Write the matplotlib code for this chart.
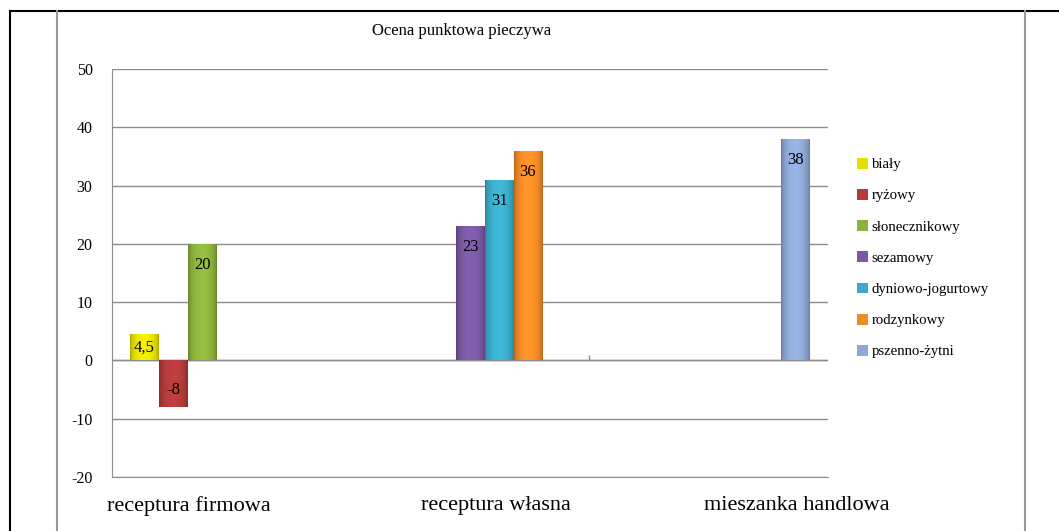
import numpy as np
import matplotlib
matplotlib.use('Agg')
from matplotlib import pyplot as plt
from matplotlib.lines import Line2D
from matplotlib.patches import Patch
import matplotlib.colors as mcolors

plt.rcParams['font.family'] = ['Liberation Serif', 'DejaVu Serif']

# scores per bread type, grouped by recipe (None = not in that group)
groups = ['receptura firmowa', 'receptura własna', 'mieszanka handlowa']
series = ['biały', 'ryżowy', 'słonecznikowy', 'sezamowy',
          'dyniowo-jogurtowy', 'rodzynkowy', 'pszenno-żytni']
values = [
    [4.5, None, None],
    [-8, None, None],
    [20, None, None],
    [None, 23, None],
    [None, 31, None],
    [None, 36, None],
    [None, None, 38],
]
colors = ['#e6e000', '#b23a3a', '#8cb13c', '#7a58a3', '#3aacca', '#f28a26', '#8ea7d6']
label_pos = [-0.18, 1.11, 2.37]   # where the group names sit along x
yticks = [-20, -10, 0, 10, 20, 30, 40, 50]

fig = plt.figure(figsize=(10.59, 5.31), dpi=100)
ax = fig.add_axes([0.1058, 0.1017, 0.6761, 0.7684])

n = len(series)
width = 0.85 / n


def shaded_bar(ax, x, h, w, color):
    # bar with a soft horizontal shading, darker at the sides
    bar = ax.bar(x, h, w, color=color, edgecolor='none', zorder=3)[0]
    base = np.array(mcolors.to_rgb(color))
    t = np.linspace(0, 1, 64)
    shade = 0.72 + 0.36 * np.sin(np.pi * t) ** 0.5
    row = np.clip(base[None, :] * shade[:, None], 0, 1)
    img = np.repeat(row[None, :, :], 2, axis=0)
    y0, y1 = (0, h) if h >= 0 else (h, 0)
    im = ax.imshow(img, extent=[x - w / 2, x + w / 2, y0, y1], aspect='auto',
                   zorder=4, interpolation='bilinear')
    im.set_clip_path(bar)
    return bar


handles = []
for j, (name, vals, col) in enumerate(zip(series, values, colors)):
    for i, v in enumerate(vals):
        if v is None:
            continue
        x = i + (j - (n - 1) / 2) * width
        shaded_bar(ax, x, v, width, col)
        txt = str(v).replace('.', ',')
        if abs(v) < 6:
            ty = v / 2
        elif v < 0:
            ty = v + 3.0
        else:
            ty = v - 3.6
        ax.text(x, ty, txt, ha='center', va='center', fontsize=12, zorder=5)
    handles.append(Patch(facecolor=col, edgecolor='none', label=name))

ax.set_xlim(-0.5, 2.5)
ax.set_ylim(-20, 50)
ax.set_yticks(yticks)
ax.set_yticklabels([str(t) for t in yticks], fontsize=11.5)
ax.tick_params(axis='y', length=0, pad=14)
ax.set_xticks([])
ax.yaxis.grid(True, color='#8c8c8c', lw=1)
ax.set_axisbelow(True)
for s in ['top', 'right']:
    ax.spines[s].set_visible(False)
ax.spines['left'].set_color('#8c8c8c')
ax.spines['bottom'].set_color('#8c8c8c')
ax.axhline(0, color='#8c8c8c', lw=1, zorder=2)
ax.vlines(1.5, 0, 1, color='#8c8c8c', lw=1, zorder=2)

for g, xp in zip(groups, label_pos):
    ax.text(xp, -23.2, g, ha='center', va='top', fontsize=16)

fig.text(0.436, 0.942, 'Ocena punktowa pieczywa', ha='center', va='center', fontsize=12)

leg = fig.legend(handles=handles, loc='upper left', bbox_to_anchor=(0.8035, 0.714),
                 frameon=False, fontsize=10.6, handlelength=0.75, handleheight=0.75,
                 handletextpad=0.25, labelspacing=1.2, borderaxespad=0)

# page frame around the chart
fig.add_artist(Line2D([0.0094, 1], [0.979, 0.979], color='black', lw=1.5))
fig.add_artist(Line2D([0.0094, 0.0094], [0, 0.979], color='black', lw=1.5))
fig.add_artist(Line2D([0.0538, 0.0538], [0, 0.979], color='#999999', lw=1.5))
fig.add_artist(Line2D([0.968, 0.968], [0, 0.979], color='#999999', lw=1.5))

fig.savefig('out.png', dpi=100)
